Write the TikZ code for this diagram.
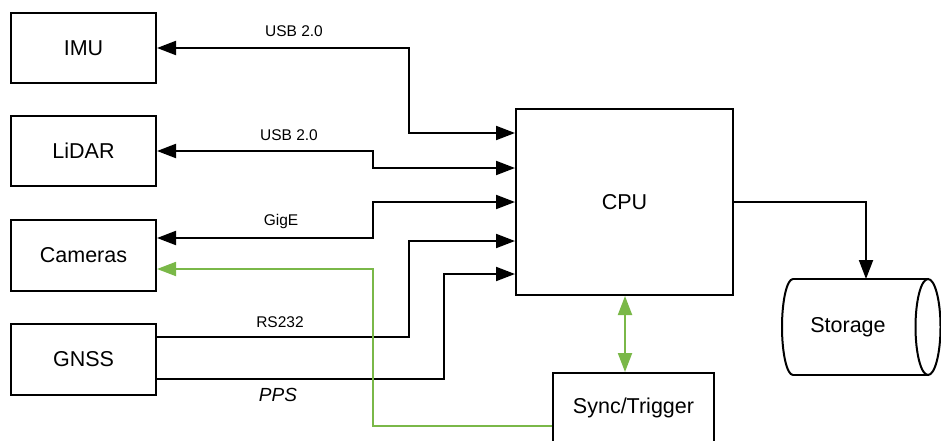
\documentclass[tikz,border=0pt]{standalone}
\usepackage{fontspec}
\setmainfont{Liberation Sans}
\usetikzlibrary{arrows.meta,calc}
\definecolor{lgreen}{RGB}{122,184,72}
\begin{document}
\begin{tikzpicture}[x=1pt,y=-1pt,
  box/.style={draw,line width=2pt,minimum width=145pt,minimum height=70pt,inner sep=0pt,font=\fontsize{21.5}{25}\selectfont},
  lbl/.style={font=\fontsize{15.5}{18}\selectfont,inner sep=0pt},
  conn/.style={line width=2pt},
  tip/.style={-{Triangle[length=19pt,width=14pt]}},
  dtip/.style={{Triangle[length=19pt,width=14pt]}-{Triangle[length=19pt,width=14pt]}},
  gconn/.style={draw=lgreen,line width=2pt}]
\clip (0,0) rectangle (941,441);
\fill[white] (0,0) rectangle (941,441);
\node[box] (imu) at (83.5,48) {IMU};
\node[box] (lidar) at (83.5,151) {LiDAR};
\node[box,minimum height=71pt] (cam) at (83.5,255.5) {Cameras};
\node[box,minimum height=71pt] (gnss) at (83.5,359.5) {GNSS};
\node[box,minimum width=217pt,minimum height=186pt] (cpu) at (624.5,202) {CPU};
\node[box,minimum width=161pt,minimum height=70pt] (sync) at (633.5,408) {Sync/Trigger};
% storage cylinder
\node[inner sep=0pt,minimum width=146pt,minimum height=96pt,font=\fontsize{21.5}{25}\selectfont] (stor) at (855,327) {\hspace*{-14pt}Storage};
\draw[line width=2pt] (793,279) -- (928,279);
\draw[line width=2pt] (793,375) -- (928,375);
\draw[line width=2pt] (793,279) arc[start angle=-90,end angle=-270,x radius=11,y radius=48];
\draw[line width=2pt] (928,327) ellipse[x radius=12.5,y radius=48];
\coordinate (stop) at (866,279);
% CPU inputs
\coordinate (c1) at (516,133);
\coordinate (c2) at (516,168);
\coordinate (c3) at (516,202);
\coordinate (c4) at (516,241);
\coordinate (c5) at (516,274);
\draw[conn,dtip] (imu.east) -- (409,48) |- (cpu.west |- c1);
\draw[conn,dtip] (lidar.east) -- (373,151) |- (cpu.west |- c2);
\draw[conn,dtip] (cam.east |- 0,238) -- (373,238) |- (cpu.west |- c3);
\draw[conn,tip] (gnss.east |- 0,337) -- (409,337) |- (cpu.west |- c4);
\draw[conn,tip] (gnss.east |- 0,379) -- (444,379) |- (cpu.west |- c5);
\draw[conn,tip] (cpu.east) -- (866,202) -- (stop);
% green
\draw[gconn,dtip] (cpu.south -| 625,0) -- (sync.north -| 625,0);
\draw[draw=lgreen,line width=1.8pt,tip] (sync.west |- 0,426) -- (373,426) -- (373,269) -- (cam.east |- 0,269);
% labels
\node[lbl] (l1) at (294,31.5) {USB 2.0};
\node[lbl] (l2) at (289,135) {USB 2.0};
\node[lbl] (l3) at (281,221) {GigE};
\node[lbl] (l4) at (280,322) {RS232};
\node[lbl,font=\fontsize{19}{22}\selectfont\itshape] (l5) at (278,395) {PPS};
\end{tikzpicture}
\end{document}
